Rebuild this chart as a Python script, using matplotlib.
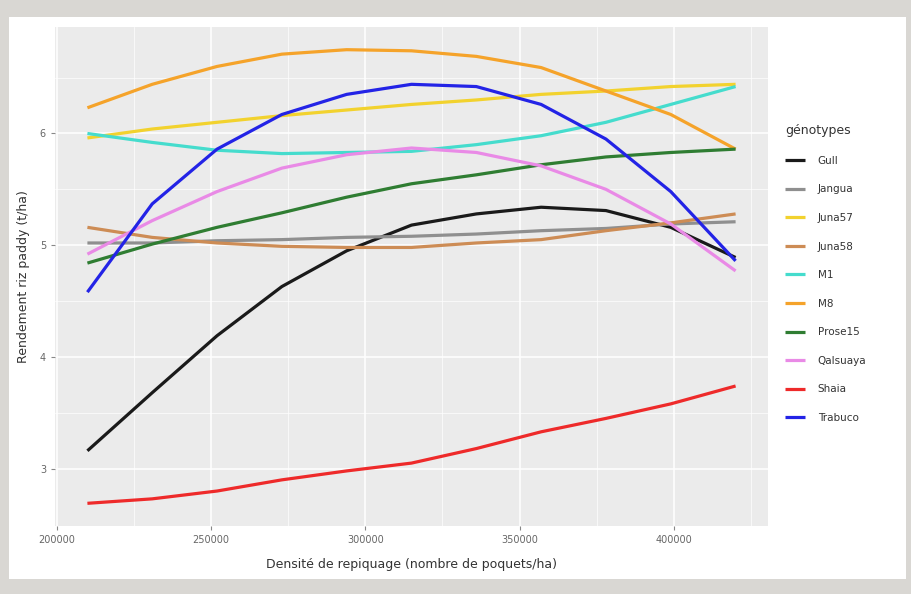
import matplotlib.pyplot as plt
import matplotlib.patches as mpatches
import numpy as np

# densite de repiquage (poquets/ha)
densite = [210000, 231000, 252000, 273000, 294000, 315000, 336000, 357000, 378000, 399000, 420000]

genotypes = ["Gull", "Jangua", "Juna57", "Juna58", "M1", "M8", "Prose15", "Qalsuaya", "Shaia", "Trabuco"]

gull     = [3.16, 3.68, 4.19, 4.63, 4.95, 5.18, 5.28, 5.34, 5.31, 5.16, 4.89]
jangua   = [5.02, 5.02, 5.04, 5.05, 5.07, 5.08, 5.10, 5.13, 5.15, 5.19, 5.21]
juna57   = [5.96, 6.04, 6.10, 6.16, 6.21, 6.26, 6.30, 6.35, 6.38, 6.42, 6.44]
juna58   = [5.16, 5.07, 5.02, 4.99, 4.98, 4.98, 5.02, 5.05, 5.13, 5.20, 5.28]
m1       = [6.00, 5.92, 5.85, 5.82, 5.83, 5.84, 5.90, 5.98, 6.10, 6.26, 6.42]
m8       = [6.23, 6.44, 6.60, 6.71, 6.75, 6.74, 6.69, 6.59, 6.38, 6.17, 5.86]
prose15  = [4.84, 5.01, 5.16, 5.29, 5.43, 5.55, 5.63, 5.72, 5.79, 5.83, 5.86]
qalsuaya = [4.92, 5.22, 5.48, 5.69, 5.81, 5.87, 5.83, 5.71, 5.50, 5.19, 4.77]
shaia    = [2.69, 2.73, 2.80, 2.90, 2.98, 3.05, 3.18, 3.33, 3.45, 3.58, 3.74]
trabuco  = [4.58, 5.37, 5.86, 6.17, 6.35, 6.44, 6.42, 6.26, 5.95, 5.48, 4.86]

series = [gull, jangua, juna57, juna58, m1, m8, prose15, qalsuaya, shaia, trabuco]
couleurs = ["#1a1a1a", "#8f8f8f", "#f2d22e", "#cd8c55", "#45dccd", "#f5a32a",
            "#2f7d32", "#e98ae6", "#ee2a2a", "#2323e6"]

fig = plt.figure(figsize=(9.12, 5.94), dpi=100)
fig.patch.set_facecolor("#d9d7d3")
fig.add_artist(mpatches.Rectangle((9 / 912, 15 / 594), 897 / 912, 562 / 594,
                                  transform=fig.transFigure, facecolor="white",
                                  edgecolor="none", zorder=0))

ax = fig.add_axes([55 / 912, 68 / 594, 713 / 912, 499 / 594])
ax.set_facecolor("#ebebeb")

for nom, vals, c in zip(genotypes, series, couleurs):
    ax.plot(densite, vals, color=c, lw=2.3, label=nom,
            solid_capstyle="butt", solid_joinstyle="round")

# limites facon ggplot (expansion 5%)
xmin, xmax = min(densite), max(densite)
allv = np.concatenate([np.array(s) for s in series])
ymin, ymax = allv.min(), allv.max()
ax.set_xlim(xmin - 0.05 * (xmax - xmin), xmax + 0.05 * (xmax - xmin))
ax.set_ylim(ymin - 0.05 * (ymax - ymin), ymax + 0.05 * (ymax - ymin))

ax.set_xticks([200000, 250000, 300000, 350000, 400000])
ax.set_xticks([225000, 275000, 325000, 375000, 425000], minor=True)
ax.set_yticks([3, 4, 5, 6])
ax.set_yticks([3.5, 4.5, 5.5, 6.5], minor=True)
ax.grid(which="major", color="white", lw=1.1)
ax.grid(which="minor", color="white", lw=0.5)
ax.set_axisbelow(True)
for s in ax.spines.values():
    s.set_visible(False)
ax.tick_params(which="major", length=3, color="#888888", labelsize=7, labelcolor="#666666")
ax.tick_params(which="minor", length=0)

ax.set_xlabel("Densité de repiquage (nombre de poquets/ha)", fontsize=9, color="#333333", labelpad=9)
ax.set_ylabel("Rendement riz paddy (t/ha)", fontsize=9, color="#333333", labelpad=7)

leg = fig.legend(loc="upper left", bbox_to_anchor=(776 / 912, 1 - 115 / 594),
                 frameon=False, title="génotypes", fontsize=7.5, title_fontsize=9,
                 handlelength=1.9, labelspacing=1.78, handletextpad=1.2)
leg._legend_box.align = "left"
for t in leg.get_texts():
    t.set_color("#333333")
leg.get_title().set_color("#333333")

fig.savefig("out.png", dpi=100)
